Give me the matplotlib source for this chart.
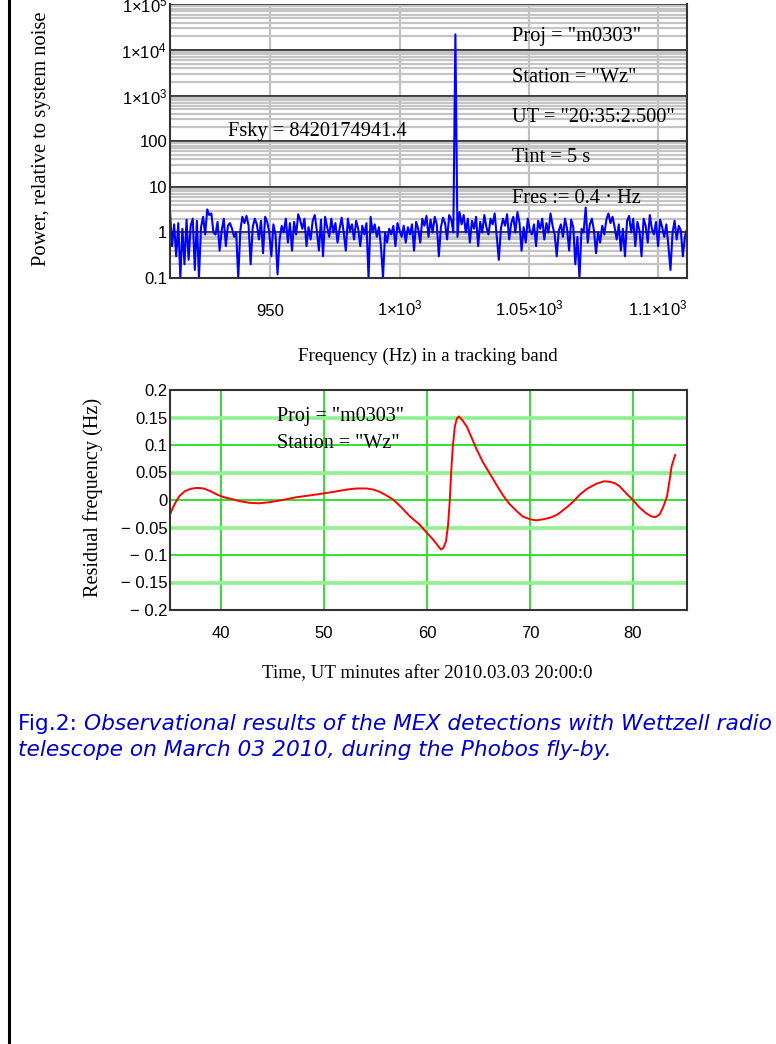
import numpy as np
import matplotlib
matplotlib.use("Agg")
import matplotlib.pyplot as plt
from matplotlib.lines import Line2D
from matplotlib.ticker import NullFormatter, LogLocator

plt.rcParams['mathtext.fontset'] = 'custom'
plt.rcParams['mathtext.rm'] = 'Liberation Sans'

# ---------------- data: spectrum (top panel) ----------------
freq_start = 911.2      # Hz
freq_step = 0.8         # Hz
power = [
    2.8, 0.5, 1.5, 0.3, 1.6, 0.1, 1.2, 0.2, 1.9, 0.25,
    1.4, 2.0, 0.15, 1.8, 0.1, 1.3, 2.2, 0.9, 3.2, 2.4,
    2.6, 1.0, 0.9, 1.7, 0.4, 1.1, 2.0, 0.5, 1.4, 1.6,
    1.2, 0.8, 1.0, 0.1, 1.1, 2.2, 1.6, 2.3, 1.4, 0.2,
    1.3, 2.0, 1.5, 0.7, 1.8, 0.35, 2.2, 1.7, 1.0, 0.3,
    1.5, 0.9, 0.12, 0.7, 1.4, 1.0, 2.0, 0.6, 1.6, 0.4,
    1.7, 0.9, 2.5, 1.8, 1.2, 2.0, 0.5, 1.3, 0.7, 1.8,
    2.4, 1.1, 0.4, 1.9, 0.3, 2.2, 1.3, 0.8, 2.0, 1.0,
    1.6, 0.6, 1.2, 2.1, 1.0, 0.4, 2.0, 1.1, 1.5, 0.7,
    1.8, 1.2, 0.5, 1.4, 0.9, 1.6, 0.1, 2.2, 1.0, 1.5,
    0.8, 1.3, 0.5, 0.1, 1.0, 0.6, 1.2, 0.9, 1.4, 0.5,
    1.6, 1.1, 0.8, 1.4, 0.6, 1.3, 0.9, 1.5, 0.4, 1.7,
    1.2, 0.6, 2.0, 1.4, 2.3, 0.8, 1.9, 1.0, 2.2, 1.5,
    0.3, 1.3, 2.1, 1.6, 0.7, 2.4, 1.9, 1.0, 22000, 0.8,
    2.8, 1.5, 2.4, 1.0, 2.0, 0.6, 1.8, 1.2, 2.2, 0.5,
    1.7, 1.0, 2.4, 1.3, 0.9, 2.0, 1.5, 2.6, 0.8, 0.25,
    1.2, 2.0, 1.4, 2.5, 0.7, 1.6, 2.2, 1.0, 2.8, 1.6,
    0.4, 1.3, 0.6, 2.0, 1.1, 0.9, 1.5, 0.5, 1.8, 1.2,
    2.0, 0.7, 1.6, 1.0, 2.6, 1.4, 0.9, 0.3, 1.1, 1.5,
    0.8, 2.0, 1.2, 0.4, 1.9, 1.3, 0.2, 0.8, 0.1, 1.2,
    1.0, 3.5, 0.6, 1.5, 2.0, 1.1, 0.35, 1.0, 0.6, 1.4,
    0.9, 1.9, 2.6, 1.6, 2.2, 1.3, 0.7, 1.5, 0.4, 1.2,
    0.3, 1.8, 2.3, 1.0, 2.0, 0.5, 1.7, 1.1, 0.3, 2.0,
    1.4, 0.6, 2.4, 1.2, 0.9, 1.7, 0.5, 1.9, 1.3, 0.8,
    1.5, 0.5, 0.15, 1.0, 1.8, 0.7, 1.4, 1.1, 0.3, 0.8, 1.2,
]
freq = freq_start + freq_step * np.arange(len(power))

top_xticks = [950, 1000, 1050, 1100]
top_xticklabels = ["950", r"$\mathregular{1{\times}10^{3}}$",
                   r"$\mathregular{1.05{\times}10^{3}}$", r"$\mathregular{1.1{\times}10^{3}}$"]
top_yticks = [0.1, 1, 10, 100, 1e3, 1e4, 1e5]
top_yticklabels = ["0.1", "1", "10", "100", r"$\mathregular{1{\times}10^{3}}$",
                   r"$\mathregular{1{\times}10^{4}}$", r"$\mathregular{1{\times}10^{5}}$"]
top_notes = ['Proj = "m0303"', 'Station = "Wz"', 'UT = "20:35:2.500"',
             'Tint = 5 s', 'Fres := 0.4 \u00b7 Hz']
fsky_note = "Fsky = 8420174941.4"

# ---------------- data: residual frequency (bottom panel) ----------------
t_min = [35.05, 35.3, 35.6, 36.0, 36.5, 37.0, 37.6, 38.3, 39.0, 39.6, 40.3, 41.0,
         41.8, 42.7, 43.7, 44.7, 45.7, 46.5, 47.3, 48.5, 50.0, 51.0, 52.2, 53.2,
         54.1, 54.8, 55.4, 56.0, 56.7, 57.5, 58.3, 59.3, 60.0, 60.6, 61.1, 61.35,
         61.6, 61.85, 62.05, 62.2, 62.35, 62.5, 62.7, 62.9, 63.1, 63.4, 63.85, 64.3,
         64.8, 65.4, 66.1, 66.8, 67.4, 68.0, 68.7, 69.3, 70.0, 70.6, 71.3, 72.0,
         72.7, 73.6, 74.2, 74.85, 75.6, 76.5, 77.2, 77.8, 78.3, 78.7, 79.3, 80.0,
         80.6, 81.2, 81.8, 82.2, 82.6, 82.95, 83.3, 83.55, 83.75, 84.1]
resid = [-0.027, -0.015, -0.004, 0.008, 0.016, 0.020, 0.022, 0.021, 0.016, 0.010,
         0.005, 0.002, -0.002, -0.005, -0.006, -0.004, -0.001, 0.002, 0.005, 0.008,
         0.012, 0.015, 0.019, 0.021, 0.021, 0.019, 0.015, 0.009, 0.001, -0.013,
         -0.029, -0.045, -0.060, -0.072, -0.084, -0.090, -0.087, -0.075, -0.045,
         -0.005, 0.050, 0.095, 0.133, 0.148, 0.152, 0.146, 0.134, 0.115, 0.093,
         0.070, 0.048, 0.026, 0.008, -0.007, -0.020, -0.030, -0.035, -0.037,
         -0.035, -0.032, -0.026, -0.013, -0.003, 0.010, 0.021, 0.030, 0.034, 0.033,
         0.030, 0.025, 0.013, 0.000, -0.013, -0.023, -0.030, -0.031, -0.026,
         -0.012, 0.006, 0.035, 0.061, 0.082]
bot_xticks = [40, 50, 60, 70, 80]
bot_yticks = [-0.2, -0.15, -0.1, -0.05, 0, 0.05, 0.1, 0.15, 0.2]
bot_yticklabels = ["\u2212 0.2", "\u2212 0.15", "\u2212 0.1", "\u2212 0.05", "0",
                   "0.05", "0.1", "0.15", "0.2"]
bot_notes = ['Proj = "m0303"', 'Station = "Wz"']

W, H = 776, 1044
fig = plt.figure(figsize=(W / 100, H / 100), dpi=100)
fig.patch.set_facecolor("white")

def fx(x):
    return x / W

def fy(y):
    return 1 - y / H

SERIF = ["Liberation Serif", "DejaVu Serif"]
SANS = ["Liberation Sans", "DejaVu Sans"]
NOTE_FS = 14.7
LABEL_FS = 13.6

# page border line on left
fig.add_artist(Line2D([fx(8.5), fx(8.5)], [0, 1], color="black", lw=2.2,
                      transform=fig.transFigure))

# ---------------- top panel ----------------
ax1 = fig.add_axes([fx(170), fy(278), (686.5 - 170) / W, (278 - 4.4) / H])
ax1.set_yscale("log")
ax1.set_xlim(911.2, 1111)
ax1.set_ylim(0.1, 1e5)
ax1.yaxis.set_minor_locator(LogLocator(base=10, subs=np.arange(2, 10)))
ax1.yaxis.set_minor_formatter(NullFormatter())
ax1.grid(which="minor", axis="y", color="#c4c4c4", lw=1.6)
ax1.grid(which="major", axis="y", color="#2a2a2a", lw=1.3)
ax1.grid(which="major", axis="x", color="#c0c0c0", lw=1.6)
ax1.set_axisbelow(True)
ax1.plot(freq, power, color="#0000ff", lw=1.5)
ax1.set_xticks(top_xticks)
ax1.set_xticklabels(top_xticklabels, family=SANS, fontsize=12)
for lab in ax1.get_xticklabels():
    lab.set_verticalalignment("baseline")
ax1.set_yticks(top_yticks)
ax1.set_yticklabels(top_yticklabels, family=SANS, fontsize=12)
ax1.tick_params(which="both", length=0)
ax1.tick_params(axis="x", pad=27)
ax1.tick_params(axis="y", pad=2)
for s in ["left", "bottom", "right"]:
    ax1.spines[s].set_color("#333333")
    ax1.spines[s].set_linewidth(1.5)
ax1.spines["top"].set_visible(False)

fig.text(fx(42), fy(139), "Power, relative to system noise", rotation=90,
         ha="center", va="center", family=SERIF, fontsize=14.8)
fig.text(fx(428), fy(356), "Frequency (Hz) in a tracking band",
         ha="center", va="center", family=SERIF, fontsize=LABEL_FS)
fig.text(fx(228), fy(131), fsky_note, ha="left", va="center", family=SERIF,
         fontsize=NOTE_FS)
for txt, yy in zip(top_notes, [37, 77, 117, 158, 199]):
    fig.text(fx(512), fy(yy), txt, ha="left", va="center", family=SERIF,
             fontsize=NOTE_FS)

# ---------------- bottom panel ----------------
ax2 = fig.add_axes([fx(170), fy(610), (686.5 - 170) / W, 220 / H])
ax2.set_xlim(35.05, 85.2)
ax2.set_ylim(-0.2, 0.2)
ax2.set_xticks(bot_xticks)
ax2.set_yticks(bot_yticks)
ax2.set_yticklabels(bot_yticklabels, family=SANS, fontsize=12)
ax2.set_xticklabels([str(v) for v in bot_xticks], family=SANS, fontsize=12)
for v in bot_xticks:
    ax2.axvline(v, color="#22dd22", lw=1.3, zorder=0)
for v in bot_yticks[1:-1]:
    if abs(round(v / 0.05)) % 2 == 1:
        ax2.axhline(v, color="#8ef08e", lw=2.6, zorder=0)
    else:
        ax2.axhline(v, color="#22dd22", lw=1.3, zorder=0)
ax2.plot(t_min, resid, color="#ff0000", lw=1.4)
ax2.tick_params(which="both", length=0)
ax2.tick_params(axis="x", pad=11.5)
ax2.tick_params(axis="y", pad=2)
for s in ax2.spines.values():
    s.set_color("#333333")
    s.set_linewidth(1.5)

fig.text(fx(93), fy(497), "Residual frequency (Hz)", rotation=90,
         ha="center", va="center", family=SERIF, fontsize=14.6)
fig.text(fx(427), fy(674), "Time, UT minutes after 2010.03.03 20:00:0",
         ha="center", va="center", family=SERIF, fontsize=LABEL_FS)
for txt, yy in zip(bot_notes, [416, 443]):
    fig.text(fx(277), fy(yy), txt, ha="left", va="center", family=SERIF,
             fontsize=14.5)

# ---------------- caption ----------------
cap_color = "#0000cc"
CAP_FS = 15.7
t1 = fig.text(fx(18), fy(724), "Fig.2: ", ha="left", va="center",
              family="DejaVu Sans", fontsize=CAP_FS, color=cap_color)
fig.canvas.draw()
bb = t1.get_window_extent()
fig.text(bb.x1 / W, fy(724),
         "Observational results of the MEX detections with Wettzell radio",
         ha="left", va="center", family="DejaVu Sans", style="italic",
         fontsize=CAP_FS, color=cap_color)
fig.text(fx(18), fy(750), "telescope on March 03 2010, during the Phobos fly-by.",
         ha="left", va="center", family="DejaVu Sans", style="italic",
         fontsize=CAP_FS, color=cap_color)

fig.savefig("out.png", dpi=100)
